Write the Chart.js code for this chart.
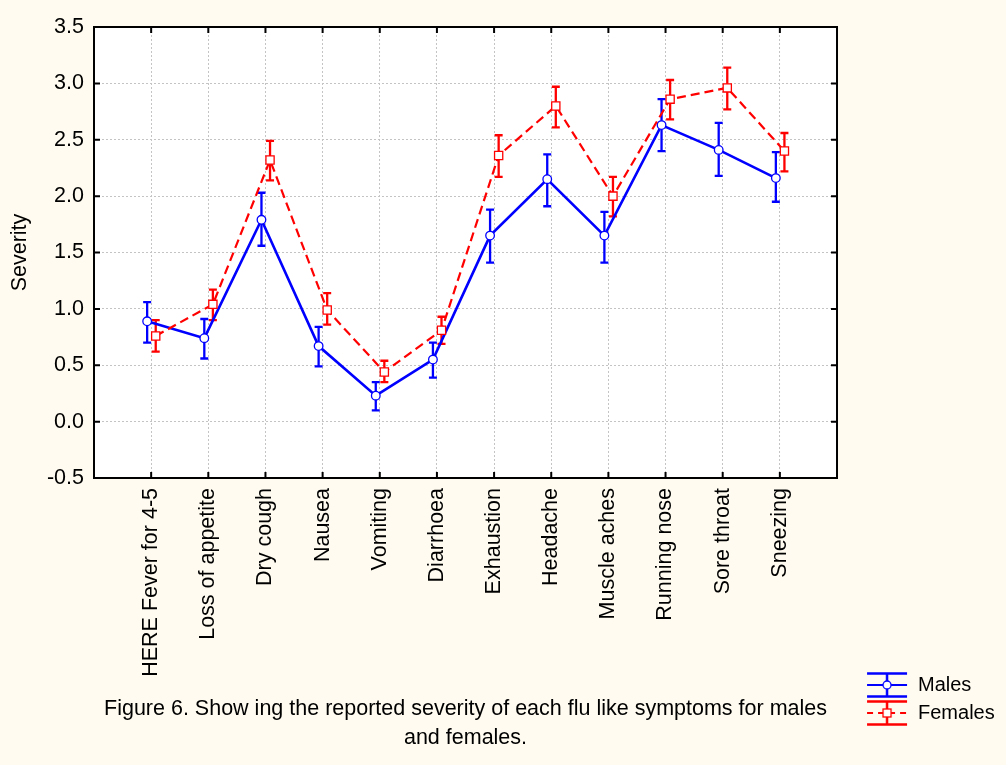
<!DOCTYPE html>
<html><head><meta charset="utf-8">
<script src="https://cdn.jsdelivr.net/npm/chart.js@4.4.1/dist/chart.umd.min.js"></script>
<style>
html,body{margin:0;padding:0;background:#fffbf0;}
#wrap{position:relative;width:1006px;height:765px;}
</style></head><body>
<div id="wrap"><canvas id="c"></canvas></div>
<script>
// ---- data ----
const categories = ['HERE Fever for 4-5','Loss of appetite','Dry cough','Nausea','Vomiting','Diarrhoea','Exhaustion','Headache','Muscle aches','Running nose','Sore throat','Sneezing'];
const malesMean   = [0.89, 0.74, 1.79, 0.67, 0.23, 0.55, 1.65, 2.15, 1.65, 2.63, 2.41, 2.16];
const malesLow    = [0.70, 0.56, 1.56, 0.49, 0.10, 0.39, 1.41, 1.91, 1.41, 2.40, 2.18, 1.95];
const malesHigh   = [1.06, 0.91, 2.03, 0.84, 0.35, 0.70, 1.88, 2.37, 1.86, 2.86, 2.65, 2.39];
const femalesMean = [0.76, 1.04, 2.32, 0.99, 0.44, 0.81, 2.36, 2.80, 2.00, 2.86, 2.96, 2.40];
const femalesLow  = [0.62, 0.90, 2.14, 0.86, 0.35, 0.69, 2.17, 2.61, 1.82, 2.68, 2.77, 2.22];
const femalesHigh = [0.90, 1.17, 2.49, 1.14, 0.54, 0.93, 2.54, 2.97, 2.17, 3.03, 3.14, 2.56];
const seriesLabels = ['Males', 'Females'];
const yMin = -0.5, yMax = 3.5, yStep = 0.5;
const captionLines = ['Figure 6. Show ing the reported severity of each flu like symptoms for males', 'and females.'];
const yTitle = 'Severity';

// ---- styling ----
const FONT = "'Liberation Sans', Arial, Helvetica, sans-serif";
Chart.defaults.font.family = FONT;
Chart.defaults.color = '#000';
const BLUE = '#0000ff', RED = '#ff0000';
const maleShift = -0.07, femaleShift = 0.08;

function makeIcon(color, shape, dashed) {
  const c = document.createElement('canvas');
  c.width = 42; c.height = 26;
  const g = c.getContext('2d');
  g.strokeStyle = color;
  g.lineWidth = 2.5;
  g.beginPath();
  g.moveTo(1, 1.5); g.lineTo(41, 1.5);
  g.moveTo(1, 24.5); g.lineTo(41, 24.5);
  g.moveTo(21, 1.5); g.lineTo(21, 24.5);
  g.stroke();
  g.lineWidth = 2;
  if (dashed) g.setLineDash([6, 5]);
  g.beginPath(); g.moveTo(1, 13); g.lineTo(41, 13); g.stroke();
  g.setLineDash([]);
  g.fillStyle = '#fff'; g.lineWidth = 1.3;
  if (shape === 'circle') { g.beginPath(); g.arc(21, 13, 4, 0, Math.PI * 2); g.fill(); g.stroke(); }
  else { g.fillRect(17, 9, 8, 8); g.strokeRect(17, 9, 8, 8); }
  return c;
}
const icons = [makeIcon(BLUE, 'circle', false), makeIcon(RED, 'rect', true)];

const plotBg = {
  id: 'plotBg',
  beforeDraw(chart) {
    const {ctx, chartArea: a} = chart;
    ctx.save(); ctx.fillStyle = '#ffffff';
    ctx.fillRect(a.left, a.top, a.right - a.left, a.bottom - a.top);
    ctx.restore();
  }
};
const errorBars = {
  id: 'errorBars',
  beforeDatasetsDraw(chart) {
    const {ctx, scales: {x, y}} = chart;
    chart.data.datasets.forEach(ds => {
      if (!ds.errLow) return;
      ctx.save();
      ctx.strokeStyle = ds.borderColor; ctx.lineWidth = 2.3; ctx.setLineDash([]);
      ds.data.forEach((p, i) => {
        const px = x.getPixelForValue(p.x);
        const lo = y.getPixelForValue(ds.errLow[i]);
        const hi = y.getPixelForValue(ds.errHigh[i]);
        ctx.beginPath();
        ctx.moveTo(px, lo); ctx.lineTo(px, hi);
        ctx.moveTo(px - 4, lo); ctx.lineTo(px + 4, lo);
        ctx.moveTo(px - 4, hi); ctx.lineTo(px + 4, hi);
        ctx.stroke();
      });
      ctx.restore();
    });
  }
};
const frame = {
  id: 'frame',
  afterDraw(chart) {
    const {ctx, chartArea: a, scales: {x, y}} = chart;
    ctx.save(); ctx.strokeStyle = '#000'; ctx.lineWidth = 2; ctx.setLineDash([]);
    ctx.strokeRect(a.left, a.top, a.right - a.left, a.bottom - a.top);
    ctx.beginPath();
    x.ticks.forEach(t => {
      const px = x.getPixelForValue(t.value);
      ctx.moveTo(px, a.top); ctx.lineTo(px, a.top + 6);
      ctx.moveTo(px, a.bottom); ctx.lineTo(px, a.bottom - 6);
    });
    y.ticks.forEach(t => {
      const py = y.getPixelForValue(t.value);
      ctx.moveTo(a.left, py); ctx.lineTo(a.left + 6, py);
      ctx.moveTo(a.right, py); ctx.lineTo(a.right - 6, py);
    });
    ctx.stroke(); ctx.restore();
  }
};

new Chart(document.getElementById('c'), {
  type: 'line',
  data: {
    datasets: [
      {
        label: seriesLabels[0],
        data: categories.map((c, i) => ({x: i + 1 + maleShift, y: malesMean[i]})),
        errLow: malesLow, errHigh: malesHigh,
        borderColor: BLUE, borderWidth: 2.6, tension: 0,
        pointStyle: 'circle', pointRadius: 4.3,
        pointBackgroundColor: '#fff', pointBorderColor: BLUE, pointBorderWidth: 1.3,
        order: 2
      },
      {
        label: seriesLabels[1],
        data: categories.map((c, i) => ({x: i + 1 + femaleShift, y: femalesMean[i]})),
        errLow: femalesLow, errHigh: femalesHigh,
        borderColor: RED, borderWidth: 2.2, borderDash: [9, 5], tension: 0,
        pointStyle: 'rect', pointRadius: 5.8,
        pointBackgroundColor: '#fff', pointBorderColor: RED, pointBorderWidth: 1.3,
        order: 1
      }
    ]
  },
  options: {
    responsive: true, maintainAspectRatio: false, animation: false, events: [],
    layout: {padding: {left: 5, top: 27, right: 1.3, bottom: 34}},
    scales: {
      x: {
        type: 'linear', min: 0, max: 13,
        afterBuildTicks(s) { s.ticks = categories.map((c, i) => ({value: i + 1})); },
        afterFit(s) { s.height = 253; },
        grid: {color: '#c4c4c4', lineWidth: 1, drawTicks: false},
        border: {display: false, dash: [2, 2]},
        ticks: {autoSkip: false, minRotation: 90, maxRotation: 90, padding: 10, color: '#000',
                font: {size: 21.5}, callback: v => categories[Math.round(v) - 1]},
        title: {display: true, text: captionLines, color: '#000',
                font: {size: 21.5, lineHeight: 1.35}, padding: {top: 0, bottom: -21.5}}
      },
      y: {
        min: yMin, max: yMax,
        afterFit(s) { s.width = 89; },
        grid: {color: '#c4c4c4', lineWidth: 1, drawTicks: false},
        border: {display: false, dash: [2, 2]},
        ticks: {stepSize: yStep, padding: 10, color: '#000', font: {size: 21.5},
                callback: v => Number(v).toFixed(1)},
        title: {display: true, text: yTitle, color: '#000', font: {size: 21.5}, padding: {top: 2, bottom: 0}}
      },
      y2: {
        position: 'right', display: true, min: 0, max: 1,
        grid: {display: false}, border: {display: false}, ticks: {display: false},
        afterFit(s) { s.width = 21; }
      }
    },
    plugins: {
      tooltip: {enabled: false},
      legend: {
        position: 'right', align: 'end',
        labels: {
          usePointStyle: true, pointStyleWidth: 42, padding: 8, color: '#000',
          font: {size: 20},
          generateLabels: () => seriesLabels.map((t, i) => ({
            text: t, pointStyle: icons[i], fontColor: '#000', hidden: false,
            datasetIndex: i, lineWidth: 0, fillStyle: 'rgba(0,0,0,0)', strokeStyle: 'rgba(0,0,0,0)'
          }))
        }
      }
    }
  },
  plugins: [plotBg, errorBars, frame]
});
</script>
</body></html>
